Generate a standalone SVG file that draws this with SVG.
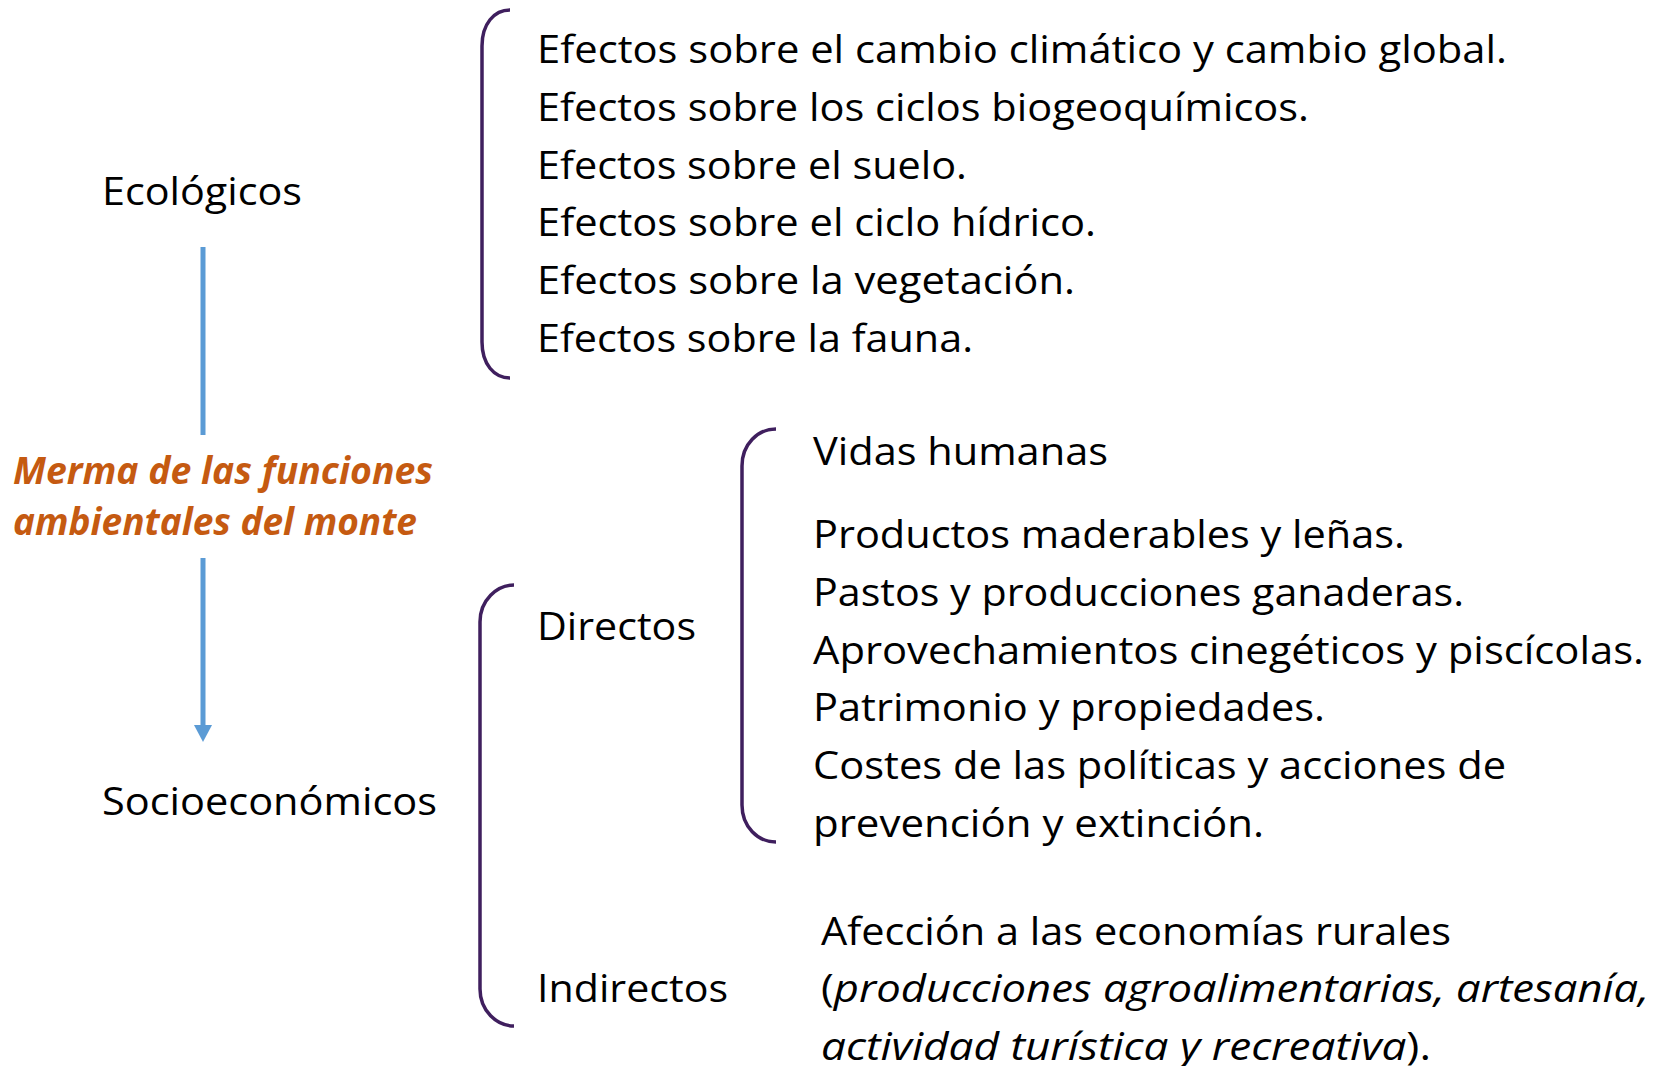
<svg xmlns="http://www.w3.org/2000/svg" width="1665" height="1066" viewBox="0 0 1665 1066">
<style>
  .t { font-family: "Open Sans", "Liberation Sans", sans-serif; font-size: 38px; fill: #000; }
  .m { font-family: "Open Sans", "Liberation Sans", sans-serif; font-size: 37px; font-weight: bold; font-style: italic; fill: #C55A11; }
  .it { font-style: italic; }
  .br { fill: none; stroke: #3F1F5E; stroke-width: 3.5; }
  .ar { fill: none; stroke: #5B9BD5; stroke-width: 5; }
</style>
<defs>
  <marker id="ah" markerUnits="userSpaceOnUse" markerWidth="18" markerHeight="18" viewBox="0 0 17 18" refX="0" refY="9" orient="auto">
    <path d="M0,0 L17,9 L0,18 Z" fill="#5B9BD5"/>
  </marker>
</defs>
<rect width="1665" height="1066" fill="#fff"/>

<g id="connectors">
  <line class="ar" x1="203" y1="247" x2="203" y2="435"/>
  <line class="ar" x1="203" y1="558" x2="203" y2="725" marker-end="url(#ah)"/>
</g>

<g id="brackets">
  <path class="br" d="M510,10 C494,10 482,24 482,46 L482,342 C482,364 494,378 510,378"/>
  <path class="br" d="M514,585 C497,585 480,600 480,622 L480,989 C480,1011 497,1026 514,1026"/>
  <path class="br" d="M776,429 C758,429 742,444 742,466 L742,805 C742,827 758,842 776,842"/>
</g>

<g id="ecologicos">
  <text class="t" x="102" y="205" textLength="200" lengthAdjust="spacingAndGlyphs">Ecológicos</text>
</g>

<g id="merma">
  <text class="m" x="13" y="484" textLength="420" lengthAdjust="spacingAndGlyphs">Merma de las funciones</text>
  <text class="m" x="13" y="535" textLength="404" lengthAdjust="spacingAndGlyphs">ambientales del monte</text>
</g>

<g id="socioeconomicos">
  <text class="t" x="102" y="815" textLength="335" lengthAdjust="spacingAndGlyphs">Socioeconómicos</text>
</g>

<g id="efectos-ecologicos">
  <text class="t" x="537" y="63" textLength="970" lengthAdjust="spacingAndGlyphs">Efectos sobre el cambio climático y cambio global.</text>
  <text class="t" x="537" y="121" textLength="772" lengthAdjust="spacingAndGlyphs">Efectos sobre los ciclos biogeoquímicos.</text>
  <text class="t" x="537" y="179" textLength="430" lengthAdjust="spacingAndGlyphs">Efectos sobre el suelo.</text>
  <text class="t" x="537" y="236" textLength="559" lengthAdjust="spacingAndGlyphs">Efectos sobre el ciclo hídrico.</text>
  <text class="t" x="537" y="294" textLength="538" lengthAdjust="spacingAndGlyphs">Efectos sobre la vegetación.</text>
  <text class="t" x="537" y="352" textLength="436" lengthAdjust="spacingAndGlyphs">Efectos sobre la fauna.</text>
</g>

<g id="directos">
  <text class="t" x="537" y="640" textLength="159" lengthAdjust="spacingAndGlyphs">Directos</text>
</g>

<g id="indirectos">
  <text class="t" x="537" y="1002" textLength="191" lengthAdjust="spacingAndGlyphs">Indirectos</text>
</g>

<g id="efectos-directos">
  <text class="t" x="813" y="465" textLength="295" lengthAdjust="spacingAndGlyphs">Vidas humanas</text>
  <text class="t" x="813" y="548" textLength="592" lengthAdjust="spacingAndGlyphs">Productos maderables y leñas.</text>
  <text class="t" x="813" y="606" textLength="651" lengthAdjust="spacingAndGlyphs">Pastos y producciones ganaderas.</text>
  <text class="t" x="813" y="664" textLength="831" lengthAdjust="spacingAndGlyphs">Aprovechamientos cinegéticos y piscícolas.</text>
  <text class="t" x="813" y="721" textLength="512" lengthAdjust="spacingAndGlyphs">Patrimonio y propiedades.</text>
  <text class="t" x="813" y="779" textLength="693" lengthAdjust="spacingAndGlyphs">Costes de las políticas y acciones de</text>
  <text class="t" x="813" y="837" textLength="451" lengthAdjust="spacingAndGlyphs">prevención y extinción.</text>
</g>

<g id="efectos-indirectos">
  <text class="t" x="821" y="945" textLength="630" lengthAdjust="spacingAndGlyphs">Afección a las economías rurales</text>
  <text class="t" x="821" y="1002" textLength="828" lengthAdjust="spacingAndGlyphs">(<tspan class="it">producciones agroalimentarias, artesanía,</tspan></text>
  <text class="t" x="821" y="1060" textLength="610" lengthAdjust="spacingAndGlyphs"><tspan class="it">actividad turística y recreativa</tspan>).</text>
</g>
</svg>
